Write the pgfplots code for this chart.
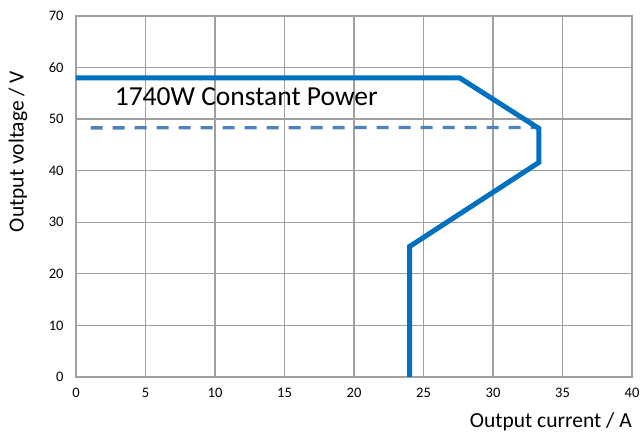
\documentclass[border=0pt]{standalone}
\usepackage{pgfplots}
\pgfplotsset{compat=1.18}
\usepackage{fontspec}
\setmainfont{Carlito}
\definecolor{solidblue}{RGB}{0,112,192}
\definecolor{dashblue}{RGB}{79,129,189}
\definecolor{gridgray}{RGB}{160,160,160}
\begin{document}
\begin{tikzpicture}
\begin{axis}[
  scale only axis,
  width=556bp, height=361bp,
  xmin=0, xmax=40, ymin=0, ymax=70,
  xtick={0,5,...,40}, ytick={0,10,...,70},
  grid=major,
  major grid style={gridgray, line width=1.3bp},
  axis line style={gridgray, line width=1.3bp},
  tick style={draw=none},
  /pgf/number format/assume math mode=true,
  ticklabel style={font=\fontsize{14.5bp}{17bp}\selectfont},
  xticklabel style={yshift=-8bp},
  yticklabel style={xshift=-9bp},
  xlabel={Output current / A},
  ylabel={Output voltage / V},
  label style={font=\fontsize{21.5bp}{25bp}\selectfont},
  xlabel style={at={(rel axis cs:1,0)}, anchor=base east, yshift=-51bp, inner sep=0pt},
  ylabel style={at={(rel axis cs:0,0.5)}, anchor=center, xshift=45bp, yshift=58bp, inner sep=0pt},
  clip=false,
]
\addplot[dashblue, line width=3.3bp, dash pattern=on 12bp off 10bp] coordinates {(1.05,48.3) (33.3,48.4)};
\addplot[solidblue, line width=5bp, line join=miter] coordinates {
  (0,58) (27.6,58) (33.3,48.2) (33.3,41.6) (24,25.3) (24,0)};
\node[font=\fontsize{27.5bp}{30bp}\selectfont, anchor=center] at (axis cs:12.25,54.3) {1740W Constant Power};
\end{axis}
\pgfresetboundingbox
\path[use as bounding box] ([shift={(-76bp,-62bp)}]current axis.south west) rectangle ([shift={(10bp,16bp)}]current axis.north east);
\end{tikzpicture}
\end{document}
